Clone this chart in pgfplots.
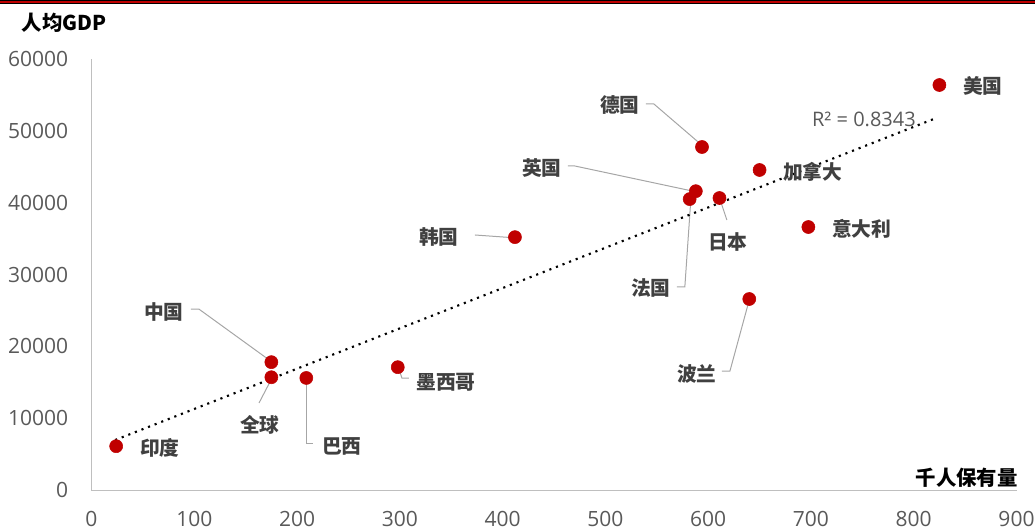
\documentclass[border=0pt]{standalone}
\usepackage{pgfplots}
\pgfplotsset{compat=1.18}
\usepackage{fontspec}
\setmainfont{Open Sans}
\newfontfamily\cjk{Noto Sans CJK SC}
\definecolor{dotred}{HTML}{C00000}
\definecolor{axisgray}{HTML}{BFBFBF}
\definecolor{tickgray}{HTML}{595959}
\definecolor{labgray}{HTML}{404040}
\definecolor{leadgray}{HTML}{A6A6A6}
\tikzset{
  lab/.style={font=\cjk\bfseries\fontsize{14.8}{17}\selectfont, text=labgray, inner sep=0pt},
  lead/.style={draw=leadgray, line width=0.75pt},
}
\begin{document}
\begin{tikzpicture}
\begin{axis}[
  scale only axis, width=693.75pt, height=323.25pt,
  xmin=0, xmax=900, ymin=0, ymax=60000,
  axis x line=bottom, axis y line=left,
  axis line style={-, draw=axisgray, line width=0.75pt},
  xtick={0,100,...,900}, ytick={0,10000,...,60000},
  major tick length=0pt, tick style={draw=none},
  scaled ticks=false,
  /pgf/number format/1000 sep={},
  /pgf/number format/assume math mode=true,
  ticklabel style={font=\fontsize{15.75}{18}\selectfont, text=tickgray},
  xticklabel style={yshift=-12.5pt},
  yticklabel style={xshift=-14pt},
  clip=false,
]
\addplot[only marks, mark=*, mark size=4.9pt, mark options={fill=dotred, draw=dotred}] table {
x y
24 6100
175 17800
175 15700
209 15600
298 17100
412 35200
582 40500
588 41600
611 40650
594 47750
650 44550
697.5 36610
640 26590
825 56380
};
% leader lines
\draw[lead] (axis cs:539.4,53738) -- (axis cs:547.2,53738) -- (axis cs:594.8,47891);
\draw[lead] (axis cs:463.5,45107) -- (axis cs:470.3,45107) -- (axis cs:589.0,41487);
\draw[lead] (axis cs:373.1,35501) -- (axis cs:414.0,35083);
\draw[lead] (axis cs:569.5,28261) -- (axis cs:577.3,28261) -- (axis cs:583.1,40373);
\draw[lead] (axis cs:611.4,40512) -- (axis cs:618.2,37589);
\draw[lead] (axis cs:96.8,25198) -- (axis cs:104.4,25198) -- (axis cs:175.6,17820);
\draw[lead] (axis cs:175.6,15592) -- (axis cs:163.0,12112);
\draw[lead] (axis cs:209.6,15592) -- (axis cs:209.6,6543) -- (axis cs:215.4,6543);
\draw[lead] (axis cs:299.1,16845) -- (axis cs:302.0,15592) -- (axis cs:308.8,15592);
\draw[lead] (axis cs:613.4,16567) -- (axis cs:621.2,16567) -- (axis cs:639.7,26312);
% trend line
\addplot[black, line width=1.6pt, dash pattern=on 1.6pt off 3.7pt] coordinates {(23,6960) (822,51790)};
\node[anchor=west, font=\fontsize{15}{18}\selectfont, text=tickgray, inner sep=0pt] at (axis cs:700.9,51650) {R² = 0.8343};
% labels
\node[lab] at (axis cs:867.2,56244) {美国};
\node[lab] at (axis cs:514.1,53599) {德国};
\node[lab] at (axis cs:701.8,44271) {加拿大};
\node[lab] at (axis cs:749.5,36336) {意大利};
\node[lab] at (axis cs:619.2,34526) {日本};
\node[lab] at (axis cs:438.2,44828) {英国};
\node[lab] at (axis cs:338.0,35222) {韩国};
\node[lab] at (axis cs:544.3,28122) {法国};
\node[lab] at (axis cs:589.1,16149) {波兰};
\node[lab] at (axis cs:70.5,24781) {中国};
\node[lab] at (axis cs:163.9,9049) {全球};
\node[lab] at (axis cs:243.7,6126) {巴西};
\node[lab] at (axis cs:66.6,5847) {印度};
\node[lab] at (axis cs:344.8,15036) {墨西哥};
% axis titles
\node[font=\cjk\bfseries\fontsize{15.3}{18}\selectfont, text=black, inner sep=0pt] at (rel axis cs:-0.0297,1.0835) {人均GDP};
\node[anchor=east, font=\cjk\bfseries\fontsize{15.3}{18}\selectfont, text=black, inner sep=0pt] at (rel axis cs:1.0016,0.028) {千人保有量};
\end{axis}
\pgfresetboundingbox
\useasboundingbox (-68.625pt,-27pt) rectangle (707.625pt,367.5pt);
\fill[black] (-68.625pt,364.5pt) rectangle (707.625pt,367.5pt);
\fill[dotred] (-68.625pt,365.25pt) rectangle (707.625pt,366.75pt);
\end{tikzpicture}
\end{document}
